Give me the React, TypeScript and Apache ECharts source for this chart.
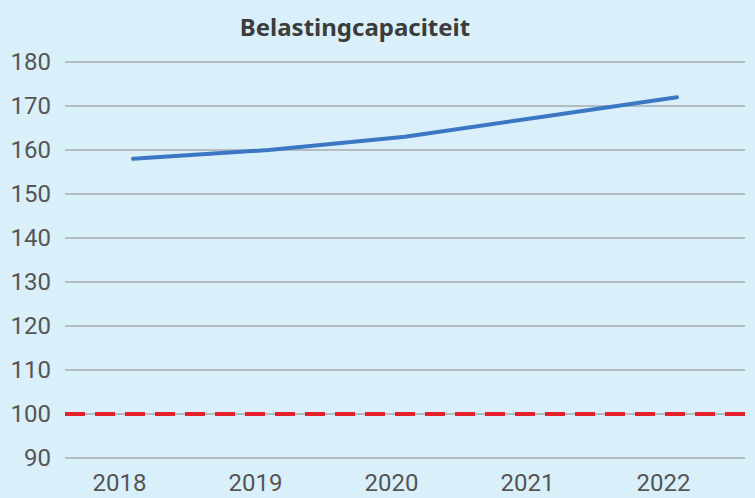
import React, { useEffect, useRef } from "react";
import * as echarts from "echarts";

const years = ["2018", "2019", "2020", "2021", "2022"];
const capacity = [158, 160, 163, 167.5, 172];
const referenceLevel = 100;
const yMin = 90;
const yMax = 180;
const yStep = 10;
const title = "Belastingcapaciteit";

export default function App() {
  const ref = useRef<HTMLDivElement>(null);
  useEffect(() => {
    if (!ref.current) return;
    const chart = echarts.init(ref.current, undefined, { renderer: "svg" });
    chart.setOption({
      animation: false,
      backgroundColor: "#d9f0fa",
      title: {
        text: title,
        left: 350,
        top: 9,
        textAlign: "center",
        textStyle: {
          fontFamily: "Noto Sans",
          fontWeight: "bold",
          fontSize: 24,
          color: "#3c3c3c",
        },
      },
      grid: { left: 65, right: 10, top: 62, bottom: 40 },
      xAxis: {
        type: "category",
        data: years,
        boundaryGap: true,
        axisLine: { show: false },
        axisTick: { show: false },
        splitLine: { show: false },
        axisLabel: {
          fontFamily: "Roboto",
          fontSize: 24,
          color: "#555",
          margin: 13,
          padding: [0, 27, 0, 0],
        },
      },
      yAxis: {
        type: "value",
        min: yMin,
        max: yMax,
        interval: yStep,
        axisLine: { show: false },
        axisTick: { show: false },
        axisLabel: {
          fontFamily: "Roboto",
          fontSize: 24,
          color: "#555",
          margin: 14,
        },
        splitLine: { lineStyle: { color: "#a3acae", width: 1.5 } },
      },
      series: [
        {
          type: "line",
          data: capacity,
          smooth: false,
          symbol: "none",
          lineStyle: { color: "#3b77c4", width: 4, cap: "round" },
          markLine: {
            silent: true,
            symbol: "none",
            label: { show: false },
            lineStyle: { color: "#e3202b", width: 4, type: [20, 10] },
            data: [{ yAxis: referenceLevel }],
          },
        },
      ],
    });
    return () => chart.dispose();
  }, []);
  return (
    <div
      ref={ref}
      style={{ position: "fixed", left: 0, top: 0, width: 755, height: 498 }}
    />
  );
}
